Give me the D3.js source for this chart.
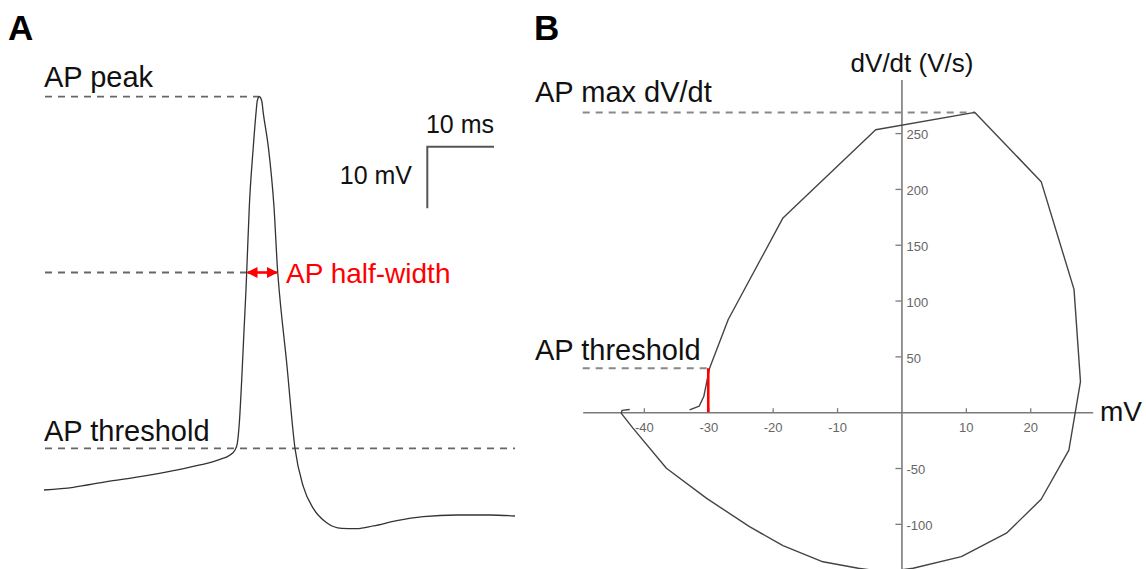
<!DOCTYPE html>
<html>
<head>
<meta charset="utf-8">
<script src="https://cdn.jsdelivr.net/npm/d3@7"></script>
<style>
  html, body { margin: 0; padding: 0; background: #fff; }
  svg text { font-family: "Liberation Sans", Arial, Helvetica, sans-serif; }
</style>
</head>
<body>
<svg id="chart" width="1146" height="569"></svg>
<script>
// ---- Panel A: single action potential (time in ms, membrane potential in mV)
const timeMs = [0, 4.39, 9.40, 14.39, 19.39, 23.39, 26.39, 27.89, 28.64, 28.98, 29.28, 29.64, 29.99, 30.28,
  30.39, 30.78, 31.38, 31.78, 31.98, 32.28, 32.64, 32.88, 33.63, 34.48, 35.04, 35.13, 36.39, 37.63, 38.88, 40.37,
  42.38, 44.63, 46.88, 49.37, 52.88, 56.87, 61.87, 66.87, 70.61];
const voltageMv = [-36.77, -36.33, -35.42, -34.61, -33.64, -32.71, -31.79, -31.09, -30.28, -29.19, -25.94, -18.91, -10.80, -4.30,
  -1.43, 9.22, 18.96, 24.38, 26.43, 27.08, 26.43, 24.38, 18.96, 9.22, -1.43, -2.68, -16.20, -30.0, -36.23, -39.74,
  -42.08, -42.99, -43.05, -42.61, -41.75, -41.10, -40.83, -40.83, -40.99];
const apThresholdMv = -30;

// ---- Panel B: phase plot (membrane potential in mV vs dV/dt in V/s)
const phaseMv = [-32.9, -31.4, -30.7, -29.8, -26.9, -18.4, -4.0, 11.4, 21.7, 26.8, 27.8, 27.0, 26.0, 21.7, 16.3, 9.3,
  1.8, -2.5, -6.7, -12.2, -18.4, -23.6, -30.3, -36.5, -41.7, -43.5, -43.4, -42.2];
const phaseDvdt = [2.0, 5.5, 14.0, 39.4, 83.0, 174.0, 253.0, 268.5, 206.5, 110.0, 27.4, 0, -34.0, -78.0, -108.4, -129.4,
  -139.8, -143.0, -139.8, -134.0, -119.5, -102.5, -77.0, -50.2, -14.3, -1.0, 1.6, 2.4];
const xTickValues = [-40, -30, -20, -10, 10, 20];
const yTickValues = [-100, -50, 50, 100, 150, 200, 250];

const svg = d3.select("#chart");

// ---------------- Panel A ----------------
const xA = d3.scaleLinear().domain([0, 10]).range([44, 110.7]);
const yA = d3.scaleLinear().domain([-30, -20]).range([448.3, 386.7]);
const gA = svg.append("g");

gA.append("text").attr("x", 8).attr("y", 40).attr("font-size", 35).attr("font-weight", "bold").text("A");

const peakIdx = d3.maxIndex(voltageMv);
const peakMv = voltageMv[peakIdx];
const halfMv = (peakMv + apThresholdMv) / 2;

// crossings of the half-amplitude level on the rising and falling phases
function crossing(level, from, to) {
  for (let i = from; i < to; i++) {
    const a = voltageMv[i], b = voltageMv[i + 1];
    if ((a - level) * (b - level) <= 0) {
      const f = (level - a) / (b - a);
      return timeMs[i] + f * (timeMs[i + 1] - timeMs[i]);
    }
  }
  return timeMs[from];
}
const tHalfRise = crossing(halfMv, 0, peakIdx);
const tHalfFall = crossing(halfMv, peakIdx, voltageMv.length - 1);

const dashA = { stroke: "#666", width: 1.8, dash: "7,6" };
function dashed(g, x1, x2, y, style) {
  g.append("line").attr("x1", x1).attr("x2", x2).attr("y1", y).attr("y2", y)
    .attr("stroke", style.stroke).attr("stroke-width", style.width).attr("stroke-dasharray", style.dash);
}
const leftA = 45;
dashed(gA, leftA, xA(timeMs[peakIdx]), yA(peakMv), dashA);
dashed(gA, leftA, xA(tHalfRise), yA(halfMv), dashA);
dashed(gA, leftA, 515, yA(apThresholdMv), dashA);

gA.append("path")
  .datum(timeMs.map((t, i) => [t, voltageMv[i]]))
  .attr("fill", "none").attr("stroke", "#333").attr("stroke-width", 1.3)
  .attr("d", d3.line().x(d => xA(d[0])).y(d => yA(d[1])).curve(d3.curveMonotoneX));

gA.append("text").attr("x", 44).attr("y", 87).attr("font-size", 29).attr("fill", "#111").text("AP peak");
gA.append("text").attr("x", 44).attr("y", 441).attr("font-size", 29).attr("fill", "#111").text("AP threshold");

// half-width double arrow
const defs = svg.append("defs");
["start", "end"].forEach(k => {
  defs.append("marker").attr("id", "arrow-" + k)
    .attr("viewBox", "0 0 10 10").attr("refX", 9).attr("refY", 5)
    .attr("markerWidth", 4.2).attr("markerHeight", 4.2)
    .attr("orient", k === "end" ? "auto" : "auto-start-reverse")
    .append("path").attr("d", "M0,0 L10,5 L0,10 Z").attr("fill", "#ff0000");
});
gA.append("line")
  .attr("x1", xA(tHalfRise) + 1).attr("x2", xA(tHalfFall) - 1)
  .attr("y1", yA(halfMv)).attr("y2", yA(halfMv))
  .attr("stroke", "#ff0000").attr("stroke-width", 2.6)
  .attr("marker-start", "url(#arrow-start)").attr("marker-end", "url(#arrow-end)");
gA.append("text").attr("x", 286).attr("y", 283).attr("font-size", 28).attr("fill", "#ff0000").text("AP half-width");

// scale bar: 10 ms horizontal, 10 mV vertical
const sbX = 427.3, sbY = 146.7;
const sbW = xA(10) - xA(0), sbH = yA(-30) - yA(-20);
gA.append("path")
  .attr("d", `M${sbX + sbW},${sbY} H${sbX} V${sbY + sbH}`)
  .attr("fill", "none").attr("stroke", "#555").attr("stroke-width", 2);
gA.append("text").attr("x", sbX + sbW).attr("y", 133).attr("text-anchor", "end").attr("font-size", 25).attr("fill", "#111").text("10 ms");
gA.append("text").attr("x", 412).attr("y", 184).attr("text-anchor", "end").attr("font-size", 25).attr("fill", "#111").text("10 mV");

// ---------------- Panel B ----------------
const xB = d3.scaleLinear().domain([-49.5, 29.7]).range([582.7, 1092.7]);
const yB = d3.scaleLinear().domain([-140, 298]).range([568.5, 79.5]);
const gB = svg.append("g");

gB.append("text").attr("x", 534).attr("y", 40).attr("font-size", 35).attr("font-weight", "bold").text("B");

const axisColor = "#7a7a7a";
const plainNumber = d => String(d);
const xAxis = gB.append("g").attr("transform", `translate(0,${yB(0)})`)
  .call(d3.axisBottom(xB).tickValues(xTickValues).tickFormat(plainNumber)
    .tickSizeInner(-4).tickSizeOuter(0).tickPadding(11));
const yAxis = gB.append("g").attr("transform", `translate(${xB(0)},0)`)
  .call(d3.axisRight(yB).tickValues(yTickValues).tickFormat(plainNumber)
    .tickSizeInner(-6).tickSizeOuter(0).tickPadding(5));
[xAxis, yAxis].forEach(ax => {
  ax.select(".domain").attr("stroke", axisColor).attr("stroke-width", 1.6);
  ax.selectAll(".tick line").attr("stroke", axisColor).attr("stroke-width", 1.3);
  ax.selectAll(".tick text").attr("fill", "#666").attr("font-size", 13)
    .attr("font-family", "'Liberation Sans', Arial, sans-serif");
});
yAxis.selectAll(".tick text").attr("dy", "0.45em");

const dashB = { stroke: "#888", width: 1.9, dash: "7,6" };
const maxIdx = d3.maxIndex(phaseDvdt);
const thrIdx = phaseMv.findIndex(v => v >= apThresholdMv);
const thrDvdt = phaseDvdt[thrIdx];
dashed(gB, 582.7, xB(phaseMv[maxIdx]), yB(phaseDvdt[maxIdx]), dashB);
dashed(gB, 582.7, xB(apThresholdMv), yB(thrDvdt), dashB);

gB.append("path")
  .datum(phaseMv.map((v, i) => [v, phaseDvdt[i]]))
  .attr("fill", "none").attr("stroke", "#444").attr("stroke-width", 1.4).attr("stroke-linejoin", "round")
  .attr("d", d3.line().x(d => xB(d[0])).y(d => yB(d[1])));

gB.append("line")
  .attr("x1", xB(apThresholdMv)).attr("x2", xB(apThresholdMv))
  .attr("y1", yB(0)).attr("y2", yB(thrDvdt))
  .attr("stroke", "#ff0000").attr("stroke-width", 2.6);

gB.append("text").attr("x", 912).attr("y", 72).attr("text-anchor", "middle").attr("font-size", 26).attr("fill", "#111").text("dV/dt (V/s)");
gB.append("text").attr("x", 1100).attr("y", 421).attr("font-size", 28).attr("fill", "#111").text("mV");
gB.append("text").attr("x", 535).attr("y", 102).attr("font-size", 29).attr("fill", "#111").text("AP max dV/dt");
gB.append("text").attr("x", 535).attr("y", 360).attr("font-size", 29).attr("fill", "#111").text("AP threshold");
</script>
</body>
</html>
